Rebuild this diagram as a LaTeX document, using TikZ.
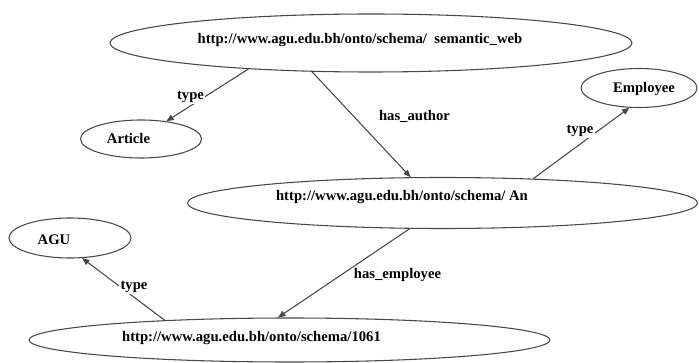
\documentclass[tikz,border=0pt]{standalone}
\usepackage{fontspec}
\setmainfont{Liberation Serif}
\usetikzlibrary{shapes.geometric,arrows.meta}
\begin{document}
\begin{tikzpicture}[x=0.75pt,y=-0.75pt,
  ent/.style={draw=black!72, line width=0.8pt, ellipse, inner sep=0pt},
  txt/.style={font=\fontsize{11}{13}\selectfont\bfseries, inner sep=0pt},
  lbl/.style={font=\fontsize{11}{13}\selectfont\bfseries, fill=white, inner sep=1pt},
  rel/.style={draw=black!72, line width=0.8pt, -{Triangle[length=5.5pt,width=4.5pt]}}]
\useasboundingbox (0,0) rectangle (699,363);

% resources and classes
\node[ent, minimum width={522*0.75pt}, minimum height={58*0.75pt}] (web) at (371,43) {};
\node[ent, minimum width={121*0.75pt}, minimum height={38*0.75pt}] (article) at (141,139) {};
\node[ent, minimum width={116*0.75pt}, minimum height={39*0.75pt}] (employee) at (639,88) {};
\node[ent, minimum width={510*0.75pt}, minimum height={51*0.75pt}] (an) at (442.5,203) {};
\node[ent, minimum width={122*0.75pt}, minimum height={40*0.75pt}] (agu) at (70,238) {};
\node[ent, minimum width={521*0.75pt}, minimum height={44*0.75pt}] (n1061) at (289.5,340) {};

% their texts
\node[txt] (webT) at (360,40) {http://www.agu.edu.bh/onto/schema/\ \ semantic\_web};
\node[txt] (articleT) at (128.5,138) {Article};
\node[txt] (employeeT) at (644,89) {Employee};
\node[txt] (anT) at (402,197.5) {http://www.agu.edu.bh/onto/schema/ An};
\node[txt] (aguT) at (54,240) {AGU};
\node[txt] (n1061T) at (251.5,338) {http://www.agu.edu.bh/onto/schema/1061};

% properties
\draw[rel] (web.192.4) -- (article.35.1);
\draw[rel] (web.206.1) -- (an.141.8);
\draw[rel] (an.15.2) -- (employee.244.7);
\draw[rel] (an.218.9) -- (n1061.117.5);
\draw[rel] (n1061.171.1) -- (agu.301);

% property labels
\node[lbl] (l1) at (190.5,97) {type};
\node[lbl, fill=none] (l2) at (414.5,116) {has\_author};
\node[lbl] (l3) at (580,131) {type};
\node[lbl, fill=none] (l4) at (397.5,275) {has\_employee};
\node[lbl] (l5) at (134,287) {type};
\end{tikzpicture}
\end{document}
